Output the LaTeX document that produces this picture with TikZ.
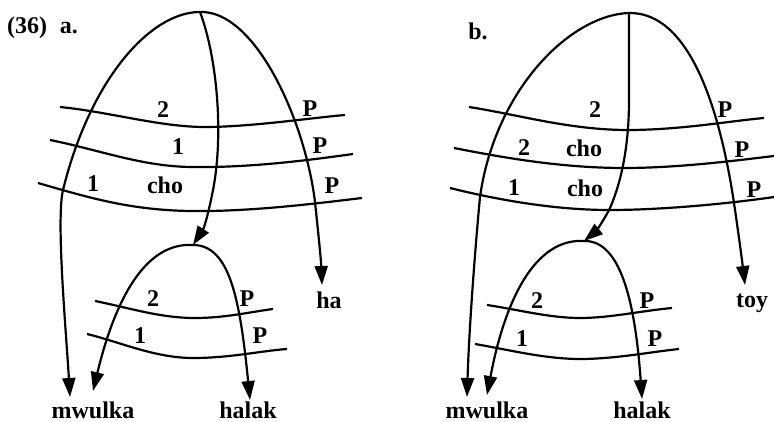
\documentclass[tikz,border=0pt]{standalone}
\usepackage{fontspec}
\setmainfont{Liberation Serif}
\usetikzlibrary{arrows.meta}
\begin{document}
\begin{tikzpicture}[x=1pt,y=-1pt,
  ln/.style={line width=2.2pt, line join=round},
  arr/.style={ln, -{Triangle[length=19pt,width=13pt]}},
  lab/.style={inner sep=0pt, font=\fontsize{24}{28}\selectfont\bfseries},
  every node/.style={lab}]
\useasboundingbox (0,0) rectangle (774,422);
% ---------- panel a ----------
\node[anchor=west] (ta) at (7,28) {(36)\; a.};
\coordinate (Aa) at (200,12);
\coordinate (Ba) at (193,245);
\node (mwa) at (93,410) {mwulka};
\node (hla) at (248,410) {halak};
\node (ha) at (329,300) {ha};
\coordinate (mwa1) at (70,397);
\coordinate (mwa2) at (93,391);
\coordinate (hla1) at (250,400);
\coordinate (ha1) at (322,285);
% big arc a
\draw[arr] (Aa) .. controls (150,12) and (90,80) .. (63,190)
  .. controls (56,220) and (66,330) .. (mwa1);
\draw[arr] (Aa) .. controls (255,10) and (305,120) .. (315,202)
  .. controls (318,230) and (321,260) .. (ha1);
\draw[arr] (Aa) .. controls (218,60) and (224,140) .. (212,195)
  .. controls (208,215) and (204,228) .. (Ba);
% lines a
\draw[ln] (60,107) .. controls (110,112) and (160,127) .. (205,127)
  .. controls (250,127) and (310,118) .. (345,115);
\draw[ln] (50,140) .. controls (100,150) and (140,166) .. (190,167)
  .. controls (250,168) and (310,160) .. (353,154);
\draw[ln] (38,183) .. controls (90,198) and (130,210) .. (190,211)
  .. controls (250,212) and (320,203) .. (362,198);
% lower arc a
\draw[arr] (Ba) .. controls (145,242) and (115,300) .. (mwa2);
\draw[arr] (Ba) .. controls (230,245) and (240,300) .. (hla1);
\draw[ln] (95,301) .. controls (130,308) and (160,318) .. (195,318)
  .. controls (225,318) and (250,312) .. (273,309);
\draw[ln] (87,334) .. controls (120,342) and (155,358) .. (193,358)
  .. controls (230,358) and (260,351) .. (287,349);
% labels a
\node (a21) at (163,110) {2};
\node (aP1) at (310,109) {P};
\node (a12) at (178,147) {1};
\node (aP2) at (320,146) {P};
\node (a13) at (93,184) {1};
\node (ac3) at (165,185) {cho};
\node (aP3) at (332,186) {P};
\node (a2l) at (153,299) {2};
\node (aPl) at (247,299) {P};
\node (a1l) at (140,336) {1};
\node (aPm) at (260,336) {P};
% ---------- panel b ----------
\node (tb) at (478,31) {b.};
\coordinate (Ab) at (629,13);
\coordinate (Bb) at (584,241);
\node (mwb) at (487,410) {mwulka};
\node (hlb) at (642,410) {halak};
\node (toy) at (752,303) {toy};
\coordinate (mwb1) at (467,397);
\coordinate (mwb2) at (487,395);
\coordinate (hlb1) at (642,399);
\coordinate (toy1) at (745,285);
% big arc b
\draw[arr] (Ab) .. controls (570,15) and (495,90) .. (480,197)
  .. controls (475,250) and (469,330) .. (mwb1);
\draw[arr] (Ab) .. controls (690,12) and (720,110) .. (734,203)
  .. controls (738,230) and (742,260) .. (toy1);
\draw[arr] (Ab) -- (629,100) .. controls (629,150) and (620,185) .. (610,208)
  .. controls (603,222) and (595,232) .. (Bb);
% lines b
\draw[ln] (469,107) .. controls (520,115) and (570,130) .. (628,130)
  .. controls (680,130) and (730,121) .. (764,118);
\draw[ln] (454,148) .. controls (500,157) and (560,168) .. (624,168)
  .. controls (680,168) and (740,160) .. (774,156);
\draw[ln] (450,188) .. controls (490,198) and (550,210) .. (609,210)
  .. controls (670,210) and (740,202) .. (774,197);
% lower arc b
\draw[arr] (Bb) .. controls (535,238) and (505,300) .. (mwb2);
\draw[arr] (Bb) .. controls (620,240) and (635,300) .. (hlb1);
\draw[ln] (487,305) .. controls (520,310) and (550,318) .. (580,318)
  .. controls (610,318) and (640,311) .. (672,308);
\draw[ln] (475,344) .. controls (510,350) and (545,359) .. (580,359)
  .. controls (615,359) and (650,352) .. (679,349);
% labels b
\node (b21) at (595,110) {2};
\node (bP1) at (725,110) {P};
\node (b22) at (524,148) {2};
\node (bc2) at (584,148) {cho};
\node (bP2) at (742,150) {P};
\node (b13) at (514,188) {1};
\node (bc3) at (585,188) {cho};
\node (bP3) at (754,190) {P};
\node (b2l) at (537,301) {2};
\node (bPl) at (647,301) {P};
\node (b1l) at (522,339) {1};
\node (bPm) at (655,339) {P};
\end{tikzpicture}
\end{document}
